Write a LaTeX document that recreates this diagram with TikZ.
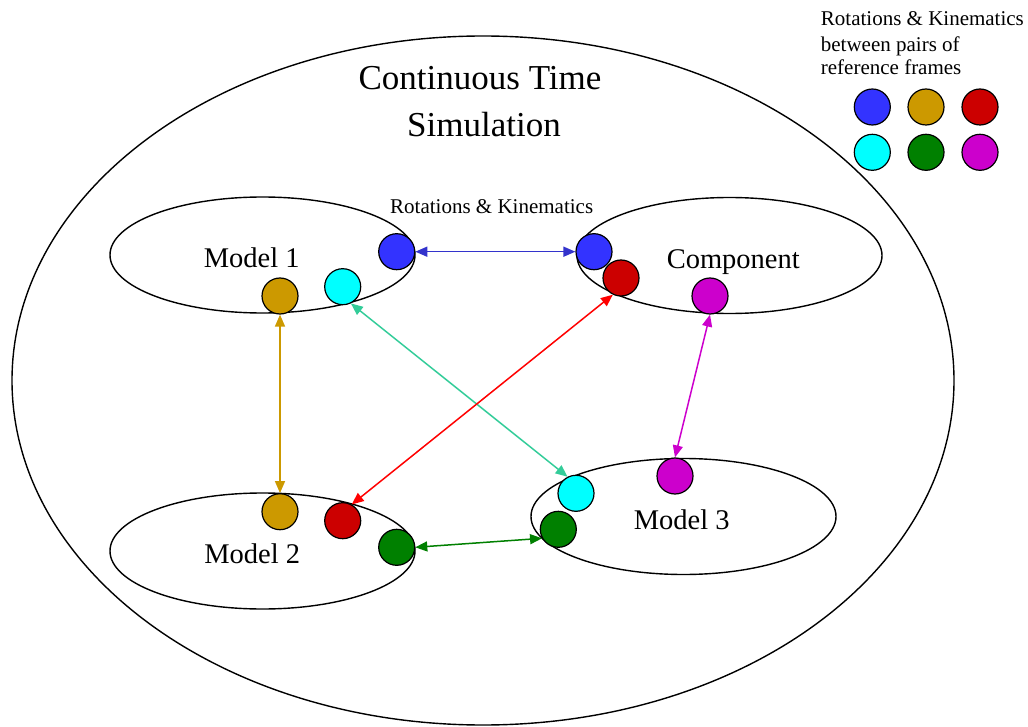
\documentclass[tikz,border=0pt]{standalone}
\usepackage{fontspec}
\setmainfont{Liberation Serif}
\usetikzlibrary{shapes.geometric,arrows.meta}
\definecolor{cblue}{HTML}{3333FF}
\definecolor{ablue}{HTML}{3333CC}
\definecolor{cgold}{HTML}{CC9900}
\definecolor{cred}{HTML}{CC0000}
\definecolor{ared}{HTML}{FF0000}
\definecolor{ccyan}{HTML}{00FFFF}
\definecolor{ateal}{HTML}{33CC99}
\definecolor{cgreen}{HTML}{008000}
\definecolor{cmag}{HTML}{CC00CC}
\tikzset{
  frame/.style={draw=black, line width=1.4pt, ellipse, inner sep=0pt},
  model/.style={frame, minimum width=305pt, minimum height=116pt},
  dot/.style={circle, draw=black, line width=1.2pt, minimum size=36pt, inner sep=0pt},
  link/.style={line width=1.5pt, {Triangle[length=12pt,width=10pt]}-{Triangle[length=12pt,width=10pt]}},
  lbl/.style={anchor=base, inner sep=0pt},
}
\begin{document}
\begin{tikzpicture}[x=1pt,y=-1pt]
\useasboundingbox (0,0) rectangle (1028,727);
% outer ellipse
\node[frame, minimum width=942pt, minimum height=689pt] (sim) at (483,380.5) {};
\node[lbl, font=\fontsize{35}{40}\selectfont] (t1) at (480,90) {Continuous Time};
\node[lbl, font=\fontsize{35}{40}\selectfont] (t2) at (484,136.7) {Simulation};
% model ellipses
\node[model] (m1) at (262.5,255) {};
\node[model] (cp) at (729.5,255.5) {};
\node[model] (m2) at (262.5,551) {};
\node[model] (m3) at (683.5,516.5) {};
\node[lbl, font=\fontsize{28.5}{32}\selectfont] (m1t) at (251.7,267.7) {Model 1};
\node[lbl, font=\fontsize{28.5}{32}\selectfont] (cpt) at (733.3,268.3) {Component};
\node[lbl, font=\fontsize{28.5}{32}\selectfont] (m2t) at (252.2,563.3) {Model 2};
\node[lbl, font=\fontsize{28.5}{32}\selectfont] (m3t) at (681.7,529.3) {Model 3};
\node[lbl, font=\fontsize{21}{25}\selectfont] (rk) at (491.7,214) {Rotations \& Kinematics};
% frame dots
\node[dot, fill=cblue] (m1b) at (396.7,251.7) {};
\node[dot, fill=ccyan] (m1c) at (342.7,286.7) {};
\node[dot, fill=cgold] (m1g) at (280,296) {};
\node[dot, fill=cblue] (cpb) at (594,251.7) {};
\node[dot, fill=cred] (cpr) at (621,278) {};
\node[dot, fill=cmag] (cpm) at (710,296) {};
\node[dot, fill=cgold] (m2g) at (280,511.7) {};
\node[dot, fill=cred] (m2r) at (342.7,520.7) {};
\node[dot, fill=cgreen] (m2n) at (396.7,547.3) {};
\node[dot, fill=ccyan] (m3c) at (576,493.3) {};
\node[dot, fill=cgreen] (m3n) at (558.3,529.3) {};
\node[dot, fill=cmag] (m3m) at (675,476) {};
% connectors
\draw[link, ablue] (m1b.east) -- (cpb.west);
\draw[link, cgold] (m1g.south) -- (m2g.north);
\draw[link, ateal] (m1c.-64) -- (m3c.117);
\draw[link, ared] (m2r.61) -- (cpr.-116);
\draw[link, cmag] (cpm.south) -- (m3m.north);
\draw[link, cgreen] (m2n.east) -- (m3n.-151);
% legend
\node[anchor=base west, inner sep=0pt, font=\fontsize{21}{25}\selectfont] (lg1) at (820.7,26) {Rotations \& Kinematics};
\node[anchor=base west, inner sep=0pt, font=\fontsize{21}{25}\selectfont] (lg2) at (820.7,51.7) {between pairs of};
\node[anchor=base west, inner sep=0pt, font=\fontsize{21}{25}\selectfont] (lg3) at (820.7,75) {reference frames};
\node[dot, fill=cblue] (lb) at (872.3,107) {};
\node[dot, fill=cgold] (lgd) at (926,107) {};
\node[dot, fill=cred] (lr) at (980,107) {};
\node[dot, fill=ccyan] (lc) at (872.3,152.3) {};
\node[dot, fill=cgreen] (ln) at (926,152.3) {};
\node[dot, fill=cmag] (lm) at (980,152.3) {};
\end{tikzpicture}
\end{document}
